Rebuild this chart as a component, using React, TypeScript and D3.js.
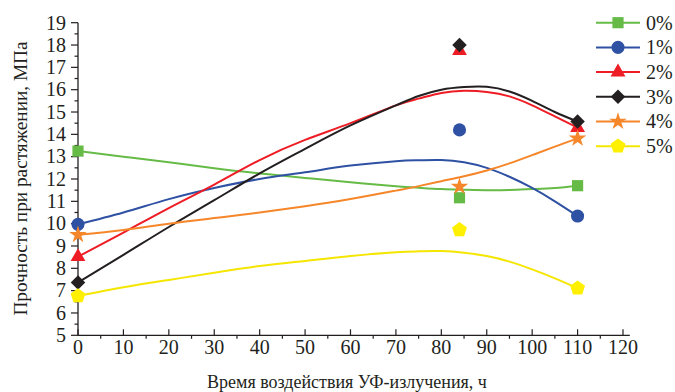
import * as d3 from 'd3'

// measured hours and strength values (markers)
const hours = [0, 84, 110]
const s0 = [13.25, 11.16, 11.7]
const s1 = [9.97, 14.2, 10.34]
const s2 = [8.52, 17.75, 14.3]
const s3 = [7.37, 18.0, 14.57]
const s4 = [9.5, 11.66, 13.82]
const s5 = [6.76, 9.72, 7.11]

// smoothed trend curves
const curveHours = [0, 10, 20, 30, 40, 50, 60, 70, 75, 80, 85, 90, 95, 100, 105, 110]
const c0 = [13.25, 13.0, 12.75, 12.48, 12.25, 12.05, 11.85, 11.68, 11.61, 11.55, 11.52, 11.5, 11.51, 11.55, 11.6, 11.7]
const c1 = [9.97, 10.5, 11.1, 11.6, 12.0, 12.3, 12.6, 12.8, 12.84, 12.85, 12.75, 12.5, 12.1, 11.6, 11.0, 10.34]
const c2 = [8.52, 9.6, 10.7, 11.75, 12.85, 13.75, 14.5, 15.3, 15.6, 15.85, 15.95, 15.9, 15.7, 15.3, 14.8, 14.3]
const c3 = [7.37, 8.6, 9.85, 11.05, 12.25, 13.35, 14.4, 15.3, 15.72, 16.0, 16.12, 16.13, 15.92, 15.5, 15.0, 14.57]
const c4 = [9.5, 9.72, 10.0, 10.25, 10.5, 10.78, 11.1, 11.48, 11.68, 11.9, 12.12, 12.38, 12.7, 13.07, 13.45, 13.82]
const c5 = [6.76, 7.15, 7.48, 7.8, 8.1, 8.33, 8.55, 8.72, 8.76, 8.77, 8.7, 8.55, 8.3, 7.95, 7.55, 7.11]

const labels = ['0%', '1%', '2%', '3%', '4%', '5%']
const colors = ['#66bb46', '#2f51a3', '#ee1c24', '#231f20', '#f6862a', '#f5e600']
const markerColors = ['#66bb46', '#2f51a3', '#ee1c24', '#231f20', '#f6862a', '#fff000']
const points = [s0, s1, s2, s3, s4, s5]
const curves = [c0, c1, c2, c3, c4, c5]

const xTicks = d3.range(0, 121, 10)
const xMinor = d3.range(5, 120, 10)
const yTicks = d3.range(5, 20, 1)
const yMinor = d3.range(5.5, 19, 1)

const W = 675
const H = 392
const font = '"Liberation Serif", "Times New Roman", serif'
const ink = '#231f20'

const x = d3.scaleLinear().domain([0, 120]).range([78, 623])
const y = d3.scaleLinear().domain([5, 19]).range([335.3, 22.7])

function pentagon(r: number) {
  const pts = d3.range(5).map((k) => {
    const a = -Math.PI / 2 + (k * 2 * Math.PI) / 5
    return [r * Math.cos(a), r * Math.sin(a)]
  })
  return 'M' + pts.map((p) => p.join(',')).join('L') + 'Z'
}

const symbolPaths = [
  d3.symbol().type(d3.symbolSquare).size(125)() as string,
  d3.symbol().type(d3.symbolCircle).size(135)() as string,
  d3.symbol().type(d3.symbolTriangle).size(95)() as string,
  d3.symbol().type(d3.symbolSquare).size(105)() as string,
  d3.symbol().type(d3.symbolStar).size(95)() as string,
  pentagon(7.8),
]
const symbolRotate = [0, 0, 0, 45, 0, 0]

function Marker({ i, cx, cy }: { i: number; cx: number; cy: number }) {
  return (
    <path
      d={symbolPaths[i]}
      transform={`translate(${cx},${cy}) rotate(${symbolRotate[i]})`}
      fill={markerColors[i]}
    />
  )
}

export default function App() {
  const line = d3
    .line<number>()
    .x((_, j) => x(curveHours[j]))
    .y((d) => y(d))
    .curve(d3.curveNatural)

  const legendX = 596
  const legendY0 = 22.7
  const legendStep = 24.7

  return (
    <svg
      width={W}
      height={H}
      style={{ position: 'absolute', left: 0, top: 0, background: '#fff' }}
      fontFamily={font}
    >
      {/* axes */}
      <line x1={x(0)} x2={x(121.5)} y1={y(5)} y2={y(5)} stroke={ink} strokeWidth={1.3} />
      <line x1={x(0)} x2={x(0)} y1={y(5)} y2={y(19)} stroke={ink} strokeWidth={1.3} />
      {xTicks.map((t) => (
        <g key={'xt' + t}>
          <line x1={x(t)} x2={x(t)} y1={y(5)} y2={y(5) - 6} stroke={ink} strokeWidth={1.2} />
          <text x={x(t)} y={354} textAnchor="middle" fontSize={20} fill={ink}>
            {t}
          </text>
        </g>
      ))}
      {xMinor.map((t) => (
        <line key={'xm' + t} x1={x(t)} x2={x(t)} y1={y(5)} y2={y(5) + 3.5} stroke={ink} strokeWidth={1.2} />
      ))}
      {yTicks.map((t) => (
        <g key={'yt' + t}>
          <line x1={x(0) - 7} x2={x(0)} y1={y(t)} y2={y(t)} stroke={ink} strokeWidth={1.2} />
          <text x={66} y={y(t) + 6.8} textAnchor="end" fontSize={20} fill={ink}>
            {t}
          </text>
        </g>
      ))}
      {yMinor.map((t) => (
        <line key={'ym' + t} x1={x(0) - 3.5} x2={x(0)} y1={y(t)} y2={y(t)} stroke={ink} strokeWidth={1.2} />
      ))}

      {/* axis titles */}
      <text x={207} y={388} fontSize={18} fill={ink}>
        Время воздействия УФ-излучения, ч
      </text>
      <text
        transform={`translate(27,178.5) rotate(-90)`}
        textAnchor="middle"
        fontSize={19.3}
        fill={ink}
      >
        Прочность при растяжении, МПа
      </text>

      {/* curves */}
      {curves.map((c, i) => (
        <path key={'c' + i} d={line(c) as string} fill="none" stroke={colors[i]} strokeWidth={2} />
      ))}

      {/* markers */}
      {points.map((s, i) =>
        s.map((v, j) => <Marker key={`m${i}-${j}`} i={i} cx={x(hours[j])} cy={y(v)} />)
      )}

      {/* legend */}
      {labels.map((lab, i) => {
        const ly = legendY0 + i * legendStep
        return (
          <g key={'l' + i}>
            <line x1={legendX} x2={legendX + 44} y1={ly} y2={ly} stroke={colors[i]} strokeWidth={2} />
            <Marker i={i} cx={legendX + 22} cy={ly} />
            <text x={legendX + 50} y={ly + 6.8} fontSize={20} fill={ink}>
              {lab}
            </text>
          </g>
        )
      })}
    </svg>
  )
}
